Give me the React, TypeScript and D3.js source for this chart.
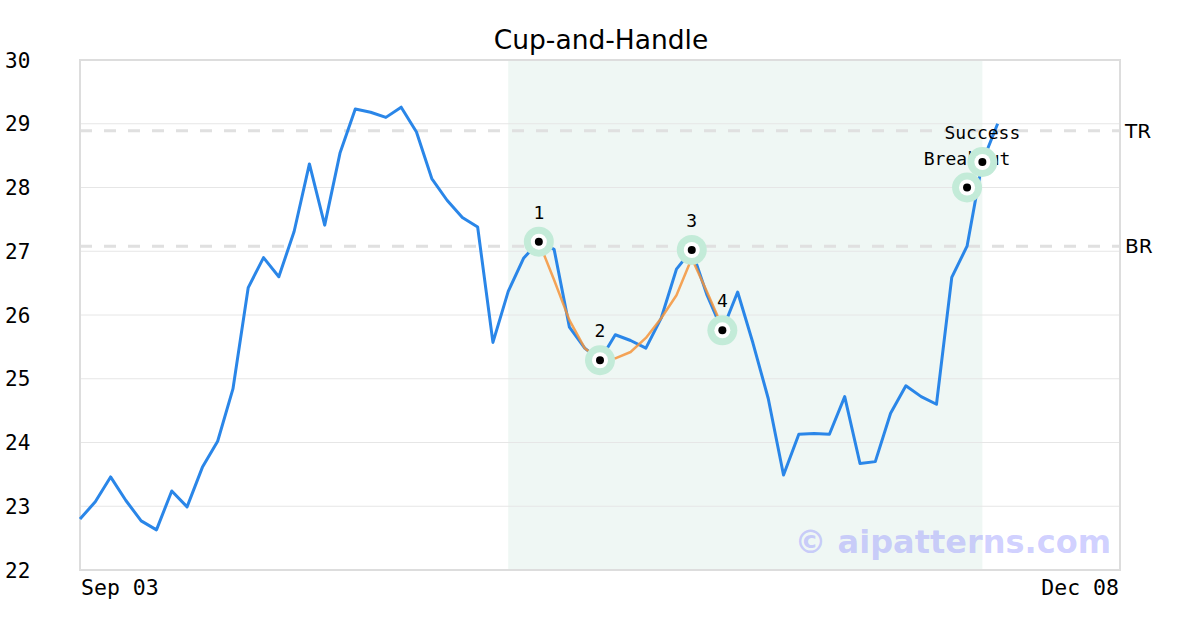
import React from "react";
import * as d3 from "d3";

const title = "Cup-and-Handle";
const closes = [22.80, 23.07, 23.46, 23.09, 22.77, 22.63, 23.24, 22.99, 23.61, 24.02,
  24.84, 26.43, 26.90, 26.60, 27.31, 28.37, 27.41, 28.54, 29.23, 29.18,
  29.10, 29.26, 28.87, 28.14, 27.80, 27.53, 27.38, 25.57, 26.37, 26.89,
  27.15, 27.03, 25.81, 25.48, 25.29, 25.69, 25.60, 25.48, 25.95, 26.72,
  27.02, 26.31, 25.76, 26.36, 25.56, 24.69, 23.49, 24.13, 24.14, 24.13,
  24.72, 23.67, 23.70, 24.46, 24.89, 24.72, 24.60, 26.59, 27.08, 28.40, 29.00];
const fitStart = 30;
const fitValues = [27.15, 26.55, 25.92, 25.48, 25.30, 25.32, 25.42, 25.64, 25.95, 26.31, 26.89, 26.36, 25.81];
const patternLabels = ["1", "2", "3", "4", "Breakout", "Success"];
const patternIdx = [30, 34, 40, 42, 58, 59];
const patternVals = [27.15, 25.29, 27.02, 25.76, 28.0, 28.40];
const shadeRange = [28, 59];
const levelNames = ["TR", "BR"];
const levelValues = [28.89, 27.08];
const yTicks = [22, 23, 24, 25, 26, 27, 28, 29, 30];
const xTickLabels = ["Sep 03", "Dec 08"];
const xDomain = [0, 68];
const watermark = "© aipatterns.com";

const W = 1200, H = 630;
const L = 80, R = 1120, T = 60, B = 570;
const mono = "'DejaVu Sans Mono', monospace";
const sans = "'DejaVu Sans', sans-serif";

export default function App() {
  const x = d3.scaleLinear().domain(xDomain).range([L, R]);
  const y = d3.scaleLinear().domain([22, 30]).range([B, T]);
  const line = d3.line<number>().x((_, i) => x(i)).y((d) => y(d));
  const fitLine = d3.line<number>().x((_, i) => x(fitStart + i)).y((d) => y(d));

  return (
    <svg width={W} height={H} style={{ position: "absolute", left: 0, top: 0, background: "#fff" }}>
      <rect x={0} y={0} width={W} height={H} fill="#fff" />
      <text x={601} y={49} textAnchor="middle" fontFamily={sans} fontSize={26.5} fill="#000">{title}</text>
      <rect x={x(shadeRange[0])} y={T} width={x(shadeRange[1]) - x(shadeRange[0])} height={B - T} fill="#eff7f4" />
      {yTicks.slice(1, -1).map((t) => (
        <line key={t} x1={L} x2={R} y1={y(t)} y2={y(t)} stroke="#e6e6e6" strokeWidth={1} />
      ))}
      {levelValues.map((v, i) => (
        <g key={levelNames[i]}>
          <line x1={L} x2={R} y1={y(v)} y2={y(v)} stroke="#e0e0e0" strokeWidth={3} strokeDasharray="12,12" />
          <text x={R + 5} y={y(v) + 7} fontFamily={sans} fontSize={20} fill="#000">{levelNames[i]}</text>
        </g>
      ))}
      <rect x={L} y={T} width={R - L} height={B - T} fill="none" stroke="#dddddd" strokeWidth={2} />
      {yTicks.map((t) => (
        <text key={t} x={5} y={y(t) + 7.5} fontFamily={mono} fontSize={21} fill="#000">{t}</text>
      ))}
      <text x={L + 1} y={595} fontFamily={mono} fontSize={21.5} fill="#000">{xTickLabels[0]}</text>
      <text x={R - 1} y={595} textAnchor="end" fontFamily={mono} fontSize={21.5} fill="#000">{xTickLabels[1]}</text>
      <path d={line(closes) || ""} fill="none" stroke="#2a86e8" strokeWidth={3} strokeLinejoin="round" />
      <path d={fitLine(fitValues) || ""} fill="none" stroke="#f5943a" strokeOpacity={0.85} strokeWidth={2.5} strokeLinejoin="round" />
      {patternLabels.map((lab, k) => {
        const cx = x(patternIdx[k]);
        const cy = y(patternVals[k]);
        return (
          <g key={lab}>
            <circle cx={cx} cy={cy} r={15} fill="#c3ebd8" />
            <circle cx={cx} cy={cy} r={8} fill="#fff" />
            <circle cx={cx} cy={cy} r={4} fill="#000" />
            <text x={cx} y={cy - 23} textAnchor="middle" fontFamily={mono} fontSize={18} fill="#000">{lab}</text>
          </g>
        );
      })}
      <text x={1111} y={553} textAnchor="end" fontFamily={sans} fontWeight="bold" fontSize={32} fill="rgb(150,150,255)" fillOpacity={0.45}>{watermark}</text>
    </svg>
  );
}
